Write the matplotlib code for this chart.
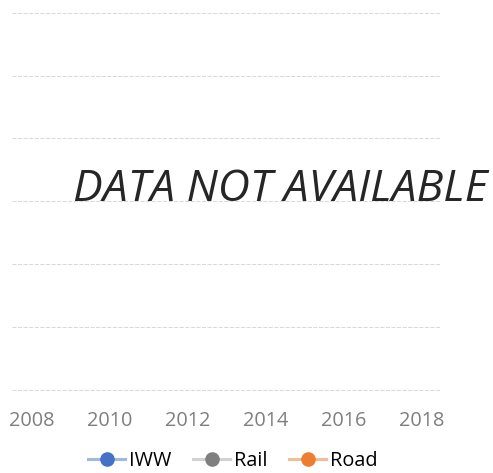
import matplotlib
matplotlib.use("Agg")
import matplotlib.pyplot as plt
import numpy as np

# Chart has no data: every series is empty ("DATA NOT AVAILABLE").
years = list(range(2008, 2019))
tick_years = [2008, 2010, 2012, 2014, 2016, 2018]
iww = [np.nan] * len(years)
rail = [np.nan] * len(years)
road = [np.nan] * len(years)
series_names = ["IWW", "Rail", "Road"]
y_grid = [0, 1, 2, 3, 4, 5, 6]

plt.rcParams["font.family"] = ["Open Sans", "DejaVu Sans"]

W, H = 493, 473
fig = plt.figure(figsize=(W / 100, H / 100), dpi=100)
ax = fig.add_axes([12 / W, 1 - 390 / H, (441 - 12) / W, (390 - 12.7) / H])

colors = ["#4472C4", "#7F7F7F", "#ED7D31"]
line_colors = [(0.27, 0.45, 0.77, 0.5), (0.5, 0.5, 0.5, 0.35), (0.93, 0.49, 0.19, 0.5)]
for vals, name, c, lc in zip([iww, rail, road], series_names, colors, line_colors):
    ax.plot(years, vals, color=lc, lw=2.2, marker="o", markersize=9.5,
            markerfacecolor=c, markeredgecolor=c, label=name)

ax.set_xlim(years[0] - 0.5, years[-1] + 0.5)
ax.set_ylim(y_grid[0], y_grid[-1])
ax.set_xticks(tick_years)
ax.set_xticklabels([str(y) for y in tick_years])
ax.set_yticks([])
ax.tick_params(axis="x", length=0, labelsize=14.3, labelcolor="#7f7f7f", pad=15)
for s in ax.spines.values():
    s.set_visible(False)
# horizontal dashed gridlines, including the one at the bottom edge
for y in y_grid:
    ax.axhline(y, color="#d9d9d9", lw=0.75, linestyle=(0, (3.9, 1.45)),
               clip_on=False, zorder=0)

fig.text(280 / W, 1 - 200.7 / H, "DATA NOT AVAILABLE", ha="center",
         va="baseline", fontsize=32, style="italic", color="#262626")

fig.legend(loc="center", bbox_to_anchor=(233 / W, 1 - 461 / H), ncol=3,
           frameon=False, fontsize=14.3, handlelength=1.85, handletextpad=0.2,
           columnspacing=1.1, borderpad=0)

fig.savefig("out.png", dpi=100)
